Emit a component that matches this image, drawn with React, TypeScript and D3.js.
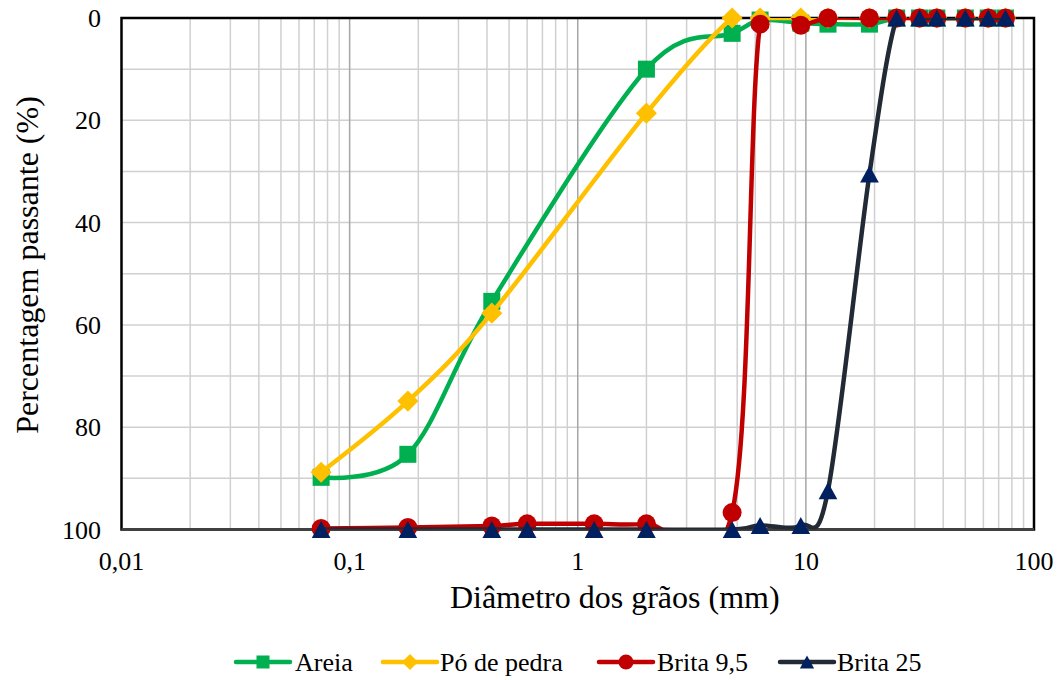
import React from 'react';
import * as d3 from 'd3';

// ---- Data ----
const areiaX = [0.075, 0.18, 0.42, 2.0, 4.75, 6.3, 9.5, 12.5, 19, 25, 31.5, 37.5, 50, 63, 75];
const areiaY = [89.8, 85.3, 55.4, 10.0, 3.0, 0.4, 1.0, 1.2, 1.2, 0, 0, 0, 0, 0, 0];

const poX = [0.075, 0.18, 0.42, 2.0, 4.75, 6.3, 9.5, 12.5, 19, 25, 31.5, 37.5, 50, 63, 75];
const poY = [88.8, 74.9, 57.7, 18.6, 0, 0, 0, 0, 0, 0, 0, 0, 0, 0, 0];

const brita95X = [0.075, 0.18, 0.42, 0.6, 1.18, 2.0, 4.75, 6.3, 9.5, 12.5, 19, 25, 31.5, 37.5, 50, 63, 75];
const brita95Y = [99.8, 99.6, 99.3, 98.9, 98.9, 98.9, 96.7, 1.2, 1.4, 0, 0, 0, 0, 0, 0, 0, 0];

const brita25X = [0.075, 0.18, 0.42, 0.6, 1.18, 2.0, 4.75, 6.3, 9.5, 12.5, 19, 25, 31.5, 37.5, 50, 63, 75];
const brita25Y = [100, 100, 100, 100, 100, 100, 100, 99.2, 99.2, 92.4, 30.5, 0, 0, 0, 0, 0, 0];

const xTickValues = [0.01, 0.1, 1, 10, 100];
const xTickLabels = ['0,01', '0,1', '1', '10', '100'];
const yTickValues = [0, 20, 40, 60, 80, 100];

const seriesNames = ['Areia', 'Pó de pedra', 'Brita 9,5', 'Brita 25'];

// ---- Layout / style ----
const W = 1061;
const H = 680;
const L = 121.5, R = 1034, T = 18, B = 529.5;
const FONT = "'Liberation Serif', 'Times New Roman', 'DejaVu Serif', serif";

const styles = [
  { line: '#00B050', fill: '#00B050', marker: 'square' },
  { line: '#FFC000', fill: '#FFC000', marker: 'diamond' },
  { line: '#C00000', fill: '#C00000', marker: 'circle' },
  { line: '#222A35', fill: '#002060', marker: 'triangle' },
];

function Marker({ type, x, y, s, fill }: { type: string; x: number; y: number; s: number; fill: string }) {
  if (type === 'square') return <rect x={x - s / 2} y={y - s / 2} width={s} height={s} fill={fill} />;
  if (type === 'diamond') {
    const h = s * 0.62;
    return <path d={`M${x},${y - h}L${x + h},${y}L${x},${y + h}L${x - h},${y}Z`} fill={fill} />;
  }
  if (type === 'circle') return <circle cx={x} cy={y} r={s / 2 + 1} fill={fill} />;
  const h = s * 1.0;
  const w = s * 1.1;
  return <path d={`M${x},${y - h / 2}L${x + w / 2},${y + h / 2}L${x - w / 2},${y + h / 2}Z`} fill={fill} />;
}

export default function App() {
  const x = d3.scaleLog().domain([0.01, 100]).range([L, R]);
  const y = d3.scaleLinear().domain([0, 100]).range([T, B]);

  const allX = [areiaX, poX, brita95X, brita25X];
  const allY = [areiaY, poY, brita95Y, brita25Y];

  const line = d3
    .line<[number, number]>()
    .x((d) => x(d[0]))
    .y((d) => y(d[1]))
    .curve(d3.curveCardinal.tension(0));

  const minor: number[] = [];
  const major: number[] = [0.1, 1, 10];
  for (let e = -2; e <= 1; e++) {
    for (let m = 2; m <= 9; m++) minor.push(m * Math.pow(10, e));
  }
  const hGrid = d3.range(10, 100, 10);

  const legendItems = [
    { lx: 236, tx: 295 },
    { lx: 383, tx: 440 },
    { lx: 599, tx: 657 },
    { lx: 780, tx: 837 },
  ];

  const txt = { fontFamily: FONT, fill: '#000' } as React.CSSProperties;

  return (
    <svg width={W} height={H} style={{ display: 'block', position: 'absolute', left: 0, top: 0 }}>
      <defs>
        <clipPath id="plotclip">
          <rect x={L} y={T} width={R - L} height={B - T} />
        </clipPath>
      </defs>
      <rect x={0} y={0} width={W} height={H} fill="#fff" />
      {/* grid */}
      {hGrid.map((v) => (
        <line key={'h' + v} x1={L} x2={R} y1={y(v)} y2={y(v)} stroke="#D0D0D0" strokeWidth={1.5} />
      ))}
      {minor.map((v, i) => (
        <line key={'m' + i} x1={x(v)} x2={x(v)} y1={T} y2={B} stroke="#D0D0D0" strokeWidth={1.5} />
      ))}
      {major.map((v, i) => (
        <line key={'M' + i} x1={x(v)} x2={x(v)} y1={T} y2={B} stroke="#A6A6A6" strokeWidth={1.5} />
      ))}
      {/* border */}
      <rect x={L} y={T} width={R - L} height={B - T} fill="none" stroke="#000" strokeWidth={2.5} />
      <line x1={L} x2={R} y1={B} y2={B} stroke="#404040" strokeWidth={3} />

      {/* series */}
      {allX.map((xs, si) => {
        const pts: [number, number][] = xs.map((v, i) => [v, allY[si][i]]);
        const st = styles[si];
        return (
          <g key={'s' + si}>
            <path d={line(pts) || ''} fill="none" stroke={st.line} strokeWidth={4.5} clipPath="url(#plotclip)" strokeLinejoin="round" />
            {pts.map((p, i) => (
              <Marker key={i} type={st.marker} x={x(p[0])} y={y(p[1])} s={17} fill={st.fill} />
            ))}
          </g>
        );
      })}

      {/* y ticks */}
      {yTickValues.map((v) => (
        <text key={'yt' + v} x={101} y={y(v)} dy="0.35em" textAnchor="end" fontSize={26} style={txt}>
          {v}
        </text>
      ))}
      {/* x ticks */}
      {xTickValues.map((v, i) => (
        <text key={'xt' + i} x={x(v)} y={570} textAnchor="middle" fontSize={26} style={txt}>
          {xTickLabels[i]}
        </text>
      ))}
      {/* axis titles */}
      <text x={(L + R) / 2 + 37} y={608} textAnchor="middle" fontSize={32} style={txt}>
        Diâmetro dos grãos (mm)
      </text>
      <text transform={`translate(38, ${265}) rotate(-90)`} textAnchor="middle" fontSize={32} style={txt}>
        Percentagem passante (%)
      </text>

      {/* legend */}
      {legendItems.map((it, i) => {
        const st = styles[i];
        const cy = 662;
        return (
          <g key={'lg' + i}>
            <line x1={it.lx} x2={it.lx + 54} y1={cy} y2={cy} stroke={st.line} strokeWidth={4.5} strokeLinecap="round" />
            <Marker type={st.marker} x={it.lx + 27} y={cy} s={13} fill={st.fill} />
            <text x={it.tx} y={cy + 9} fontSize={26} style={txt}>
              {seriesNames[i]}
            </text>
          </g>
        );
      })}
    </svg>
  );
}
